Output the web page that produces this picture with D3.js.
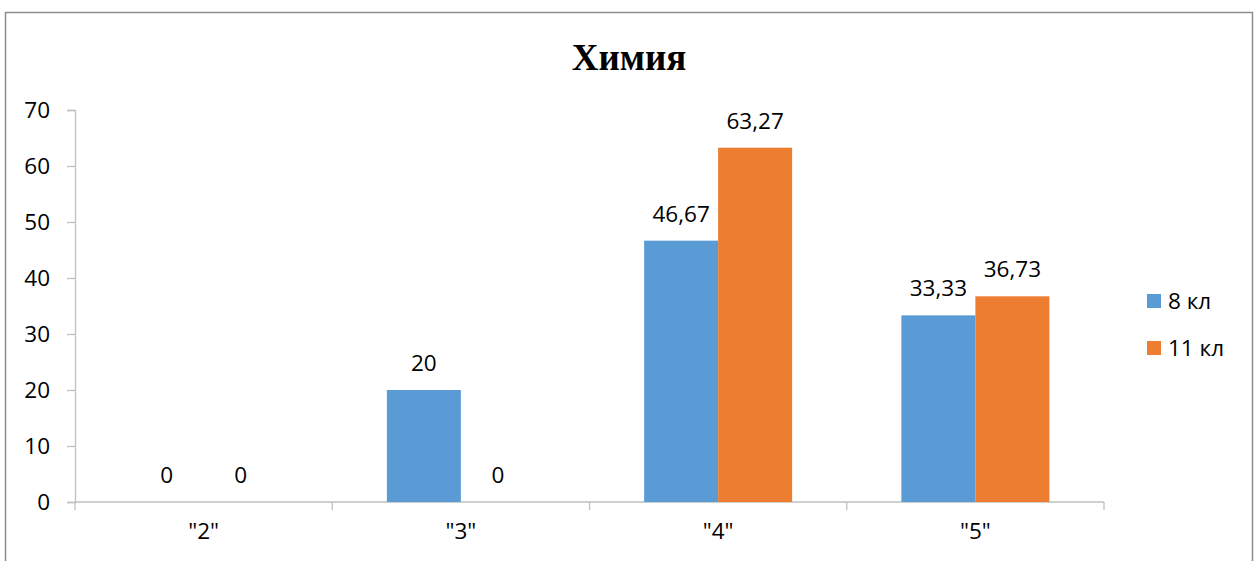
<!DOCTYPE html>
<html><head><meta charset="utf-8">
<script src="https://cdn.jsdelivr.net/npm/d3@7"></script>
<style>body{margin:0;background:#fff;}svg{display:block;}</style>
</head><body>
<script>
const categories = ['"2"', '"3"', '"4"', '"5"'];
const seriesNames = ["8 кл", "11 кл"];
const values8 = [0, 20, 46.67, 33.33];
const values11 = [0, 0, 63.27, 36.73];
const labels8 = ["0", "20", "46,67", "33,33"];
const labels11 = ["0", "0", "63,27", "36,73"];
const yTicks = [0, 10, 20, 30, 40, 50, 60, 70];
const colors = ["#5B9BD5", "#ED7D31"];
const title = "Химия";

const W = 1259, H = 561;
const svg = d3.select("body").append("svg").attr("width", W).attr("height", H);
const font = "'Open Sans', sans-serif";

svg.append("rect").attr("x", 5.5).attr("y", 12.5).attr("width", 1247).attr("height", 600)
  .attr("fill", "#fff").attr("stroke", "#8c8c8c").attr("stroke-width", 1.5);

svg.append("text").attr("x", 629).attr("y", 70).attr("text-anchor", "middle")
  .attr("font-family", "'Liberation Serif', serif").attr("font-weight", "bold")
  .attr("font-size", 37).attr("fill", "#000").text(title);

const x0 = d3.scaleBand().domain(categories).range([75, 1104]).paddingInner(0).paddingOuter(0);
const y = d3.scaleLinear().domain([0, 70]).range([502, 110]);

// y axis
const gy = svg.append("g").attr("transform", "translate(75,0)")
  .call(d3.axisLeft(y).tickValues(yTicks).tickSize(8).tickPadding(17).tickFormat(d3.format("d")));
gy.select(".domain").attr("stroke", "#bfbfbf").attr("stroke-width", 1.3);
gy.selectAll(".tick line").attr("stroke", "#bfbfbf").attr("stroke-width", 1.3);
gy.selectAll("text").attr("font-family", font).attr("font-size", 22.5).attr("fill", "#000");

// x axis
const gx = svg.append("g").attr("transform", "translate(0,502)");
gx.append("line").attr("x1", 75).attr("x2", 1104).attr("stroke", "#bfbfbf").attr("stroke-width", 1.3);
const bounds = categories.map(c => x0(c)).concat([x0.range()[1]]);
gx.selectAll("line.tk").data(bounds).enter().append("line").attr("class", "tk")
  .attr("x1", d => d).attr("x2", d => d).attr("y1", 0).attr("y2", 8)
  .attr("stroke", "#bfbfbf").attr("stroke-width", 1.3);
gx.selectAll("text").data(categories).enter().append("text")
  .attr("x", d => x0(d) + x0.bandwidth() / 2).attr("y", 37)
  .attr("text-anchor", "middle").attr("font-family", font).attr("font-size", 22.5).attr("fill", "#000")
  .text(d => d);

// bars
const groupW = 148;
const series = [
  {name: seriesNames[0], vals: values8, labs: labels8, color: colors[0]},
  {name: seriesNames[1], vals: values11, labs: labels11, color: colors[1]}
];
const sub = d3.scaleBand().domain(seriesNames).range([0, groupW]);
series.forEach(s => {
  const g = svg.append("g");
  categories.forEach((c, i) => {
    const bx = x0(c) + (x0.bandwidth() - groupW) / 2 + sub(s.name);
    g.append("rect").attr("x", bx).attr("y", y(s.vals[i]))
      .attr("width", sub.bandwidth()).attr("height", y(0) - y(s.vals[i])).attr("fill", s.color);
    g.append("text").attr("x", bx + sub.bandwidth() / 2).attr("y", y(s.vals[i]) - 19)
      .attr("text-anchor", "middle").attr("font-family", font).attr("font-size", 22.5).attr("fill", "#000")
      .text(s.labs[i]);
  });
});

// legend
const lg = svg.append("g");
seriesNames.forEach((n, i) => {
  const cy = 301 + i * 47;
  lg.append("rect").attr("x", 1147).attr("y", cy - 7).attr("width", 14).attr("height", 14).attr("fill", colors[i]);
  lg.append("text").attr("x", 1168).attr("y", cy + 8).attr("font-family", font).attr("font-size", 22.5)
    .attr("fill", "#000").text(n);
});
</script>
</body></html>
